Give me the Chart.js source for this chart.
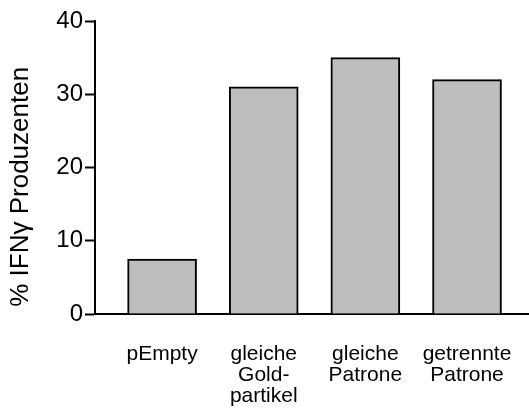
<!DOCTYPE html>
<html>
<head>
<meta charset="utf-8">
<script src="https://cdn.jsdelivr.net/npm/chart.js@4/dist/chart.umd.min.js"></script>
<style>
  html, body { margin: 0; padding: 0; background: #ffffff; }
  canvas { display: block; }
</style>
</head>
<body>
<canvas id="chart" width="529" height="414"></canvas>
<script>
// Groups along the x axis (multi-line labels)
const categories = [
  ["pEmpty"],
  ["gleiche", "Gold-", "partikel"],
  ["gleiche", "Patrone"],
  ["getrennte", "Patrone"]
];
// Share of IFN-gamma producing cells, in percent
const producers = [7.5, 31, 35, 32];
// Value axis ticks
const yTicks = [0, 10, 20, 30, 40];
const yTitle = " % IFNγ Produzenten";

const FONT = "'Liberation Sans', Arial, Helvetica, sans-serif";

const points = producers.map((v, i) => ({ x: i, y: v }));

new Chart(document.getElementById("chart"), {
  type: "bar",
  data: {
    datasets: [{
      data: points,
      backgroundColor: "#bebebe",
      borderColor: "#000000",
      borderWidth: 2,
      barThickness: 69,
      borderSkipped: "start"
    }]
  },
  options: {
    responsive: false,
    animation: false,
    events: [],
    layout: { padding: { top: 21, right: 1, left: 0, bottom: 0 } },
    plugins: {
      legend: { display: false },
      tooltip: { enabled: false }
    },
    scales: {
      x: {
        type: "linear",
        offset: false,
        min: -0.66,
        max: 3.6,
        afterBuildTicks: (scale) => {
          scale.ticks = categories.map((_, i) => ({ value: i }));
        },
        afterFit: (scale) => {
          scale.height = 100;
          scale.paddingLeft = 0;
          scale.paddingRight = 0;
        },
        grid: { display: false, drawTicks: false },
        border: { display: true, color: "#000000", width: 2 },
        ticks: {
          autoSkip: false,
          maxRotation: 0,
          minRotation: 0,
          padding: 30,
          color: "#000000",
          font: { family: FONT, size: 21, lineHeight: 1.0 },
          callback: (value) => categories[value]
        }
      },
      y: {
        min: 0,
        max: 40,
        afterBuildTicks: (scale) => {
          scale.ticks = yTicks.map(v => ({ value: v }));
        },
        afterFit: (scale) => { scale.width = 95; },
        grid: {
          display: true,
          drawOnChartArea: false,
          drawTicks: true,
          tickLength: 10,
          tickColor: "#000000",
          tickWidth: 2
        },
        border: { display: true, color: "#000000", width: 2 },
        ticks: {
          padding: 2,
          color: "#000000",
          font: { family: FONT, size: 24 }
        },
        title: {
          display: true,
          text: yTitle,
          align: "start",
          color: "#000000",
          font: { family: FONT, size: 26, lineHeight: 1.2 },
          padding: { top: 5, bottom: 0 }
        }
      }
    }
  }
});
</script>
</body>
</html>
